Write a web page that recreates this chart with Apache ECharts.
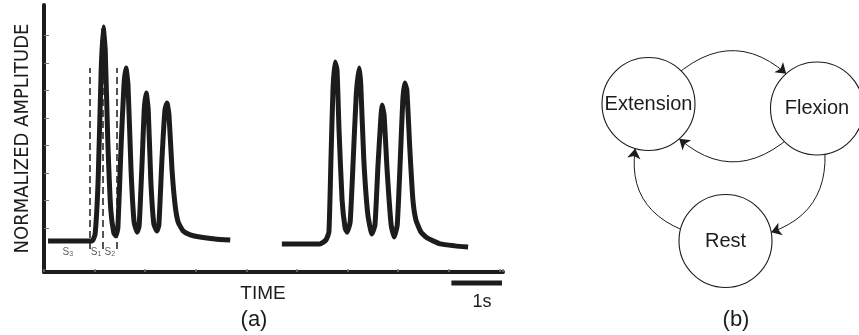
<!DOCTYPE html>
<html>
<head>
<meta charset="utf-8">
<script src="https://cdn.jsdelivr.net/npm/echarts@6/dist/echarts.min.js"></script>
<style>
  html, body { margin: 0; padding: 0; background: #fff; }
  #chart { width: 859px; height: 335px; }
</style>
</head>
<body>
<div id="chart"></div>
<script>
// (a) signal, time in seconds vs normalized amplitude
const burst1 = [
  [0.08, 1.13], [0.95, 1.13], [1.01, 1.38], [1.07, 3.35], [1.13, 7.35], [1.17, 8.91],
  [1.21, 8.07], [1.26, 4.80], [1.32, 2.25], [1.38, 1.42], [1.42, 1.31], [1.46, 1.60],
  [1.52, 4.44], [1.58, 6.80], [1.62, 7.42], [1.66, 6.80], [1.72, 3.71], [1.78, 1.82],
  [1.84, 1.45], [1.88, 1.67], [1.94, 4.07], [1.98, 5.89], [2.02, 6.51], [2.06, 5.89],
  [2.11, 3.35], [2.17, 1.75], [2.23, 1.49], [2.27, 1.71], [2.33, 4.07], [2.39, 5.89],
  [2.43, 6.15], [2.47, 5.71], [2.53, 3.71], [2.59, 2.44], [2.65, 1.82], [2.75, 1.49],
  [2.89, 1.35], [3.08, 1.27], [3.38, 1.20], [3.68, 1.16]
];
const burst2 = [
  [4.70, 1.02], [5.45, 1.02], [5.57, 1.16], [5.63, 1.45], [5.67, 4.07], [5.71, 6.62],
  [5.75, 7.64], [5.79, 7.35], [5.83, 5.16], [5.89, 2.62], [5.95, 1.60], [5.99, 1.45],
  [6.05, 1.82], [6.11, 4.07], [6.17, 6.44], [6.23, 7.42], [6.26, 6.80], [6.32, 4.07],
  [6.40, 2.07], [6.48, 1.38], [6.54, 1.71], [6.60, 3.89], [6.66, 5.71], [6.68, 6.07],
  [6.72, 5.71], [6.78, 3.71], [6.86, 1.71], [6.92, 1.27], [6.98, 1.71], [7.04, 4.07],
  [7.09, 6.25], [7.13, 6.87], [7.17, 6.62], [7.23, 4.44], [7.29, 2.62], [7.35, 1.89],
  [7.45, 1.45], [7.57, 1.24], [7.83, 1.02], [8.12, 0.95], [8.38, 0.91]
];
const yTicks = [1.6, 2.6, 3.6, 4.6, 5.6, 6.6, 7.6, 8.6];
// segment boundaries (dashed) and their labels
const cutTimes = [0.90, 1.17, 1.44];
const cutLow = 0.84;
const cutHigh = 7.42;
const stateLabelX = [0.47, 1.03, 1.30];
const stateLabelIdx = ['3', '1', '2'];
const stateLabelY = 0.73;
const scaleBar = [[8.05, 0.5], [9.05, 0.5]];

// (b) state diagram
const states = ['Extension', 'Flexion', 'Rest'];
const statePos = [[1.94, 7.84], [8.68, 7.66], [5.02, 2.36]];
const transitions = [
  ['Extension', 'Flexion', 0.66],
  ['Flexion', 'Extension', 0.66],
  ['Flexion', 'Rest', 0.62],
  ['Rest', 'Extension', 0.65]
];

const ink = '#1c1c1c';
const font = 'Liberation Sans, Arial, sans-serif';

const chart = echarts.init(document.getElementById('chart'));
chart.setOption({
  animation: false,
  backgroundColor: '#fff',
  title: [
    { text: 'TIME', left: 258, top: 279, textAlign: 'center',
      textStyle: { fontSize: 19, fontWeight: 'normal', color: ink, fontFamily: font } },
    { text: '1s', left: 477, top: 288, textAlign: 'center',
      textStyle: { fontSize: 18, fontWeight: 'normal', color: ink, fontFamily: font } },
    { text: '(a)', left: 249, top: 304, textAlign: 'center',
      textStyle: { fontSize: 22, fontWeight: 'normal', color: ink, fontFamily: font } },
    { text: '(b)', left: 731, top: 304, textAlign: 'center',
      textStyle: { fontSize: 22, fontWeight: 'normal', color: ink, fontFamily: font } }
  ],
  grid: [
    { left: 44, top: 5, width: 459, height: 267 },
    { left: 600, top: 50, width: 250, height: 250 },
    { left: 44, top: 279, width: 459, height: 8 }
  ],
  xAxis: [
    {
      gridIndex: 0, type: 'value', min: 0, max: 9.07, interval: 1,
      axisLine: { lineStyle: { color: ink, width: 4 } },
      axisTick: { inside: true, length: 3, lineStyle: { color: '#777', width: 1.5 } },
      axisLabel: { show: false },
      splitLine: { show: false }
    },
    { gridIndex: 1, type: 'value', min: 0, max: 10, show: false },
    { gridIndex: 2, type: 'value', min: 0, max: 9.07, show: false }
  ],
  yAxis: [
    {
      gridIndex: 0, type: 'value', min: 0, max: 9.71,
      name: 'NORMALIZED AMPLITUDE', nameLocation: 'middle', nameGap: 11,
      nameTextStyle: { fontSize: 20, color: ink, fontFamily: 'Liberation Sans Narrow, Arial Narrow, DejaVu Sans Condensed, sans-serif' },
      axisLine: { lineStyle: { color: ink, width: 4 } },
      axisTick: { inside: true, length: 5, customValues: yTicks, lineStyle: { color: '#777', width: 1 } },
      axisLabel: { show: false },
      splitLine: { show: false }
    },
    { gridIndex: 1, type: 'value', min: 0, max: 10, show: false },
    { gridIndex: 2, type: 'value', min: 0, max: 1, show: false }
  ],
  series: [
    {
      type: 'line', xAxisIndex: 0, yAxisIndex: 0, data: burst1,
      showSymbol: false, smooth: 0.15,
      lineStyle: { color: ink, width: 5, join: 'round', cap: 'butt' },
      markLine: {
        silent: true, symbol: 'none',
        label: { show: false },
        lineStyle: { color: ink, width: 1.5, type: [7, 4] },
        data: cutTimes.map((t) => [{ coord: [t, cutLow] }, { coord: [t, cutHigh] }])
      }
    },
    {
      type: 'line', xAxisIndex: 0, yAxisIndex: 0, data: burst2,
      showSymbol: false, smooth: 0.15,
      lineStyle: { color: ink, width: 5, join: 'round', cap: 'butt' }
    },
    {
      type: 'scatter', xAxisIndex: 0, yAxisIndex: 0, symbolSize: 0,
      data: stateLabelX.map((x, i) => [x, stateLabelY, stateLabelIdx[i]]),
      label: {
        show: true, position: 'inside',
        formatter: (p) => '{s|S}{d|' + p.value[2] + '}',
        rich: {
          s: { fontSize: 10, color: '#333', fontFamily: font },
          d: { fontSize: 7, color: '#333', fontFamily: font, verticalAlign: 'bottom', padding: [4, 0, 0, 0] }
        }
      }
    },
    {
      type: 'line', xAxisIndex: 2, yAxisIndex: 2, data: scaleBar,
      showSymbol: false,
      lineStyle: { color: ink, width: 5, cap: 'butt' }
    },
    {
      type: 'graph', coordinateSystem: 'cartesian2d', xAxisIndex: 1, yAxisIndex: 1,
      layout: 'none', roam: false,
      symbol: 'circle', symbolSize: 93,
      itemStyle: { color: '#fff', borderColor: ink, borderWidth: 1.1 },
      label: { show: true, position: 'inside', fontSize: 20, color: ink, fontFamily: font },
      edgeSymbol: ['none', 'arrow'],
      edgeSymbolSize: [0, 10],
      lineStyle: { color: ink, width: 1, opacity: 1 },
      emphasis: { disabled: true },
      data: states.map((s, i) => ({ name: s, value: statePos[i] })),
      links: transitions.map((t) => ({
        source: t[0], target: t[1], lineStyle: { curveness: t[2] }
      }))
    }
  ]
});
</script>
</body>
</html>
